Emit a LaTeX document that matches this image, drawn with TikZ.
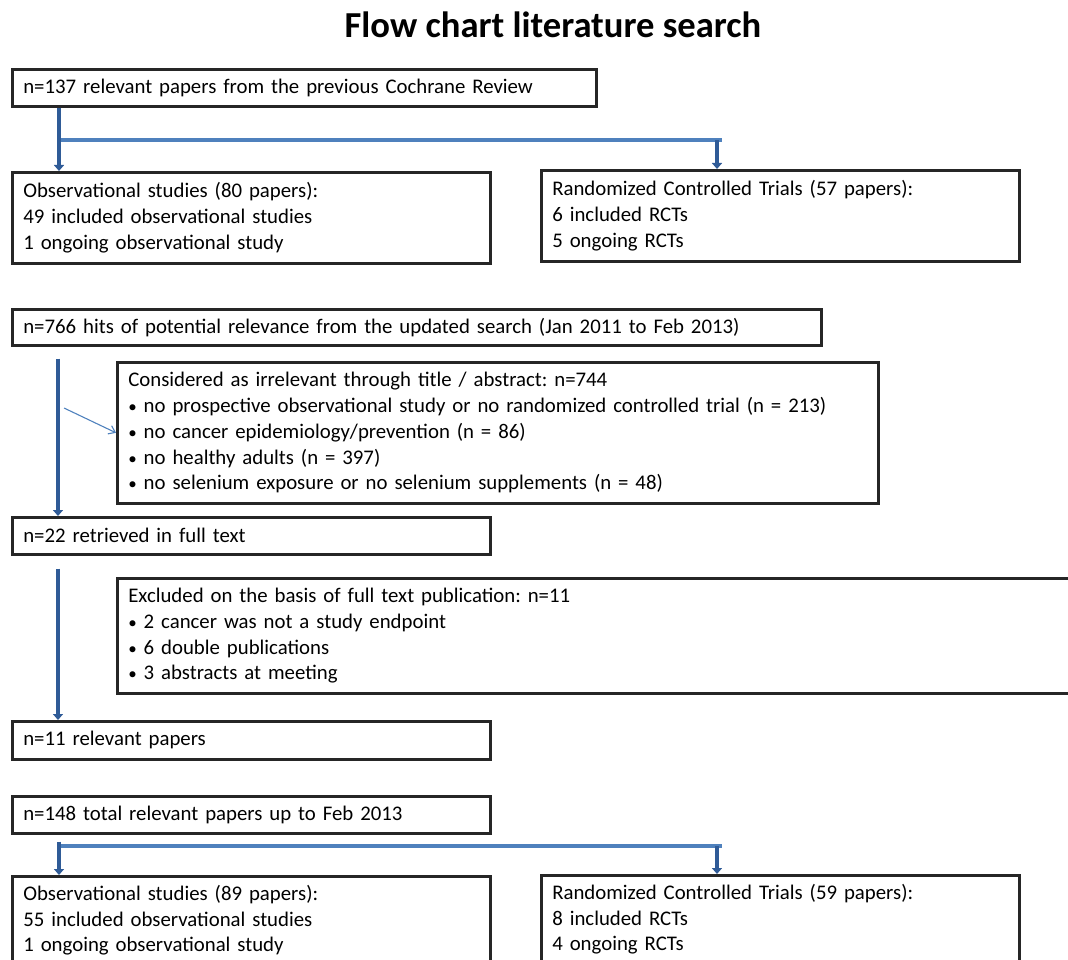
\documentclass[tikz,border=0pt]{standalone}
\usepackage{fontspec}
\setmainfont{Carlito}
\usetikzlibrary{arrows.meta,positioning}
\definecolor{flowdark}{HTML}{2F5B97}
\definecolor{flowlight}{HTML}{4F81BD}
\newcommand{\bul}{{\fontsize{17}{17}\selectfont\textbullet}}
\frenchspacing

\begin{document}
\begin{tikzpicture}[x=1pt, y=-1pt,
    every node/.style={font=\fontsize{20.8}{25.8}\selectfont},
    box/.style={draw=black!85, line width=2.6pt, anchor=north west, align=left,
        inner xsep=11pt, inner ysep=0pt},
    flow/.style={flowdark, line width=3.6pt, -{Triangle[length=6pt,width=10pt]}},
    branch/.style={flowlight, line width=4pt},
    hint/.style={flowlight, line width=1.1pt, -{Straight Barb[length=6pt,width=9pt]}}]
    \useasboundingbox (0,0) rectangle (1068,960);
    \clip (0,0) rectangle (1068,960);
    \node[font=\fontsize{36.6}{40}\selectfont\bfseries] (title) at (553,25) {Flow chart literature search};
    \node[box, text width=562pt, minimum height=37pt] (prev) at (11,68) {n=137 relevant papers from the previous Cochrane Review};
    \node[box, text width=456pt, minimum height=91pt] (obs1) at (11,171) {Observational studies (80 papers):\\49 included observational studies\\1 ongoing observational study};
    \node[box, text width=456pt, minimum height=91pt] (rct1) at (540,169) {Randomized Controlled Trials (57 papers):\\6 included RCTs\\5 ongoing RCTs};
    \node[box, text width=787pt, minimum height=36pt] (hits) at (11,308) {n=766 hits of potential relevance from the updated search (Jan 2011 to Feb 2013)};
    \node[box, text width=739pt, minimum height=141pt] (irrel) at (116,361) {Considered as irrelevant through title / abstract: n=744\\
        \bul{} no prospective observational study or no randomized controlled trial (n = 213)\\
        \bul{} no cancer epidemiology/prevention (n = 86)\\
        \bul{} no healthy adults (n = 397)\\
        \bul{} no selenium exposure or no selenium supplements (n = 48)};
    \node[box, text width=456pt, minimum height=37pt] (full) at (11,516) {n=22 retrieved in full text};
    \node[box, text width=958pt, minimum height=115pt] (excl) at (116,577) {Excluded on the basis of full text publication: n=11\\
        \bul{} 2 cancer was not a study endpoint\\
        \bul{} 6 double publications\\
        \bul{} 3 abstracts at meeting};
    \node[box, text width=456pt, minimum height=38pt] (rel) at (11,720) {n=11 relevant papers};
    \node[box, text width=456pt, minimum height=37pt] (total) at (11,795) {n=148 total relevant papers up to Feb 2013};
    \node[box, text width=456pt, minimum height=88pt] (obs2) at (11,875) {Observational studies (89 papers):\\55 included observational studies\\1 ongoing observational study};
    \node[box, text width=456pt, minimum height=88pt] (rct2) at (540,874) {Randomized Controlled Trials (59 papers):\\8 included RCTs\\4 ongoing RCTs};
    \coordinate (fork1) at (59,140);
    \coordinate (fork1end) at (722,140);
    \coordinate (fork2) at (59,846);
    \coordinate (fork2end) at (722,846);
    \coordinate (tap) at (64,408);
    \draw[branch] (fork1) -- (fork1end);
    \draw[flow] ([xshift=48pt]prev.south west) -- ([xshift=48pt]obs1.north west);
    \draw[flow] ([xshift=177pt]rct1.north west |- fork1) -- ([xshift=177pt]rct1.north west);
    \draw[flow, shorten <=12pt] ([xshift=47pt]hits.south west) -- ([xshift=47pt]full.north west);
    \draw[hint] (tap) -- (irrel.west);
    \draw[flow, shorten <=13pt] ([xshift=47pt]full.south west) -- ([xshift=47pt]rel.north west);
    \draw[branch] (fork2) -- (fork2end);
    \draw[flow, shorten <=7pt] ([xshift=48pt]total.south west) -- ([xshift=48pt]obs2.north west);
    \draw[flow] ([xshift=177pt]rct2.north west |- fork2) -- ([xshift=177pt]rct2.north west);
\end{tikzpicture}
\end{document}
